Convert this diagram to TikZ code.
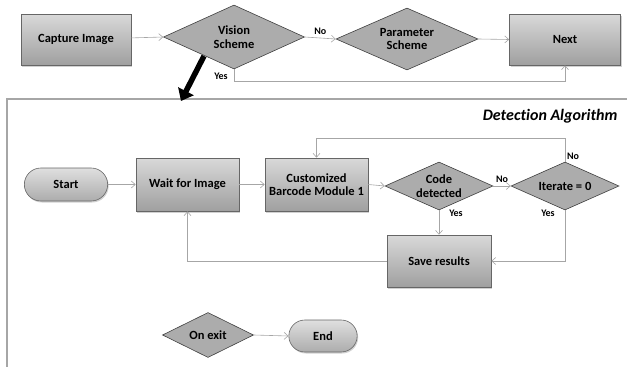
\documentclass[tikz,border=0pt]{standalone}
\usepackage{fontspec}
\setmainfont[Ligatures=NoCommon]{Carlito}
\usetikzlibrary{arrows.meta,shapes.geometric,shapes.misc,shadows}
\begin{document}
\begin{tikzpicture}[x=1pt,y=-1pt,font=\fontsize{12.5}{13.5}\selectfont\bfseries,
  procbox/.style={draw=gray!80!black,line width=0.6pt,top color=gray!30,bottom color=gray!75,
    align=center,inner sep=2pt,
    drop shadow={shadow xshift=1pt,shadow yshift=-1.5pt,fill=gray!60,opacity=0.6}},
  dec/.style={diamond,aspect=2.2,draw=gray!50!black,line width=0.6pt,fill=gray!65,align=center,inner sep=0pt},
  term/.style={rounded rectangle,draw=gray!80!black,line width=0.6pt,top color=gray!25,bottom color=gray!65,
    drop shadow={shadow xshift=1pt,shadow yshift=-1.5pt,fill=gray!60,opacity=0.6}},
  conn/.style={draw=gray!70,line width=0.6pt,-{Straight Barb[length=4pt,width=7pt]}},
  lbl/.style={font=\fontsize{10}{11}\selectfont\bfseries}
]
\useasboundingbox (0,0) rectangle (627,367);
% frame
\draw[gray!70,line width=2.5pt] (627,99) -- (7,99) -- (7,368);
\node[anchor=east,font=\fontsize{16}{17}\selectfont\bfseries\itshape] (title) at (621,116) {Detection Algorithm};

% top row
\node[procbox, minimum width=110pt, minimum height=51pt] (cap) at (76,39.5) {Capture Image};
\node[dec, minimum width=141pt, minimum height=64pt] (vis) at (234,37) {Vision\\Scheme};
\node[dec, minimum width=142pt, minimum height=62pt] (par) at (407,39) {Parameter\\Scheme};
\node[procbox, minimum width=111pt, minimum height=51pt] (next) at (565,39.5) {Next};
\draw[conn] (cap) -- (vis.west);
\draw[conn] (vis.east) -- node[lbl,above] {No} (par.west);
\draw[conn] (par.east) -- (next.west);
\coordinate (yb) at (234,81);
\draw[conn] (vis.south) -- (yb) -| (next.south);
\node[lbl] (yes1) at (221,76) {Yes};

% big arrow
\coordinate (ba1) at (204,56);
\coordinate (ba2) at (181,101);
\draw[line width=5.5pt,-{Triangle[length=11pt,width=17pt]}] (ba1) -- (ba2);

% detection algorithm
\node[term, minimum width=90pt, minimum height=33pt] (start) at (66,184.5) {Start};
\node[procbox, minimum width=103pt, minimum height=53pt] (wait) at (187.5,184.5) {Wait for Image};
\node[procbox, minimum width=103pt, minimum height=53pt] (cbm) at (316.5,184.5) {Customized\\Barcode Module 1};
\node[dec, minimum width=108pt, minimum height=48pt] (code) at (439,186) {Code\\detected};
\node[dec, minimum width=108pt, minimum height=48pt] (iter) at (565,186) {Iterate = 0};
\node[procbox, minimum width=104pt, minimum height=52pt] (save) at (439,261) {Save results};

\draw[conn] (start) -- (wait);
\draw[conn] (wait) -- (cbm);
\draw[conn] (cbm.east) -- (code.west);
\draw[conn] (code.east) -- node[lbl,above] {No} (iter.west);
\coordinate (lt) at (565,138);
\draw[conn] (iter.north) -- (lt) -| (cbm.north);
\node[lbl] (no2) at (573,156) {No};
\draw[conn] (code.south) -- (save.north);
\node[lbl] (yes2) at (456,213) {Yes};
\coordinate (lb) at (565,261);
\draw[conn] (iter.south) -- (lb) -- (save.east);
\node[lbl] (yes3) at (548,213) {Yes};
\draw[conn] (save.west) -| (wait.south);

\node[dec, minimum width=91pt, minimum height=45pt] (exit) at (208,335) {On exit};
\node[term, minimum width=75pt, minimum height=32pt] (end) at (323,336) {End};
\draw[conn] (exit.east) -- (end.west);
\end{tikzpicture}
\end{document}
